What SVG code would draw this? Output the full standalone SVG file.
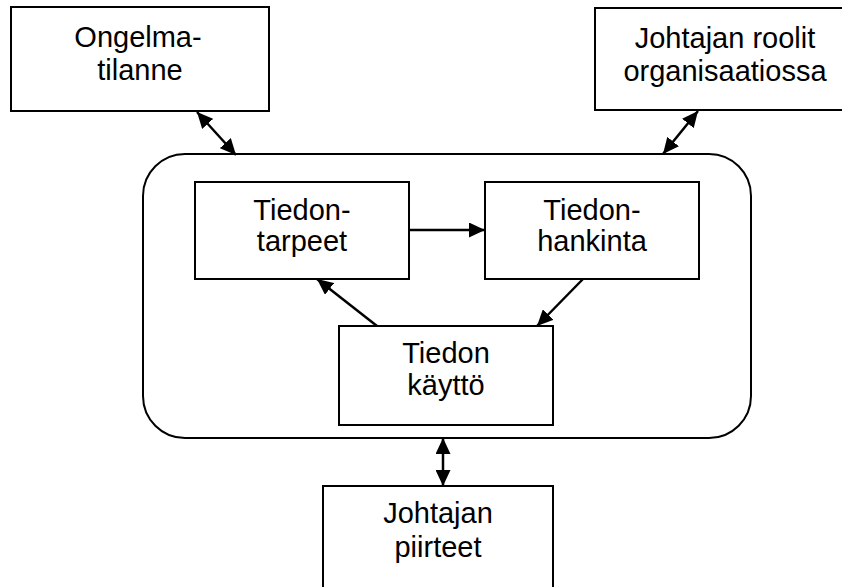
<svg xmlns="http://www.w3.org/2000/svg" width="842" height="587" viewBox="0 0 842 587">
<style>
.box{fill:#fff;stroke:#000;stroke-width:2}
.lbl{font-family:"Liberation Sans",Arial,sans-serif;font-size:29px;fill:#000;text-anchor:middle}
.con{stroke:#000;stroke-width:2.5;fill:none}
</style>
<defs>
<marker id="ah" viewBox="0 0 16 15" refX="16" refY="7.5" markerWidth="16" markerHeight="15" markerUnits="userSpaceOnUse" orient="auto-start-reverse">
<path d="M0,0 L16,7.5 L0,15 z" fill="#000"/>
</marker>
</defs>
<rect width="842" height="587" fill="#fff"/>
<g id="ongelmatilanne">
<rect class="box" x="11" y="7" width="258" height="104"/>
<text class="lbl" x="138" y="47">Ongelma-</text>
<text class="lbl" x="140" y="80">tilanne</text>
</g>
<g id="johtajan-roolit">
<rect class="box" x="595" y="8" width="260" height="102"/>
<text class="lbl" x="725" y="48">Johtajan roolit</text>
<text class="lbl" x="725" y="81">organisaatiossa</text>
</g>
<g id="tiedonhallinta">
<rect class="box" x="143" y="154" width="608" height="284" rx="42" ry="42"/>
</g>
<g id="tiedontarpeet">
<rect class="box" x="195" y="182" width="214" height="97"/>
<text class="lbl" x="302" y="220">Tiedon-</text>
<text class="lbl" x="302" y="251">tarpeet</text>
</g>
<g id="tiedonhankinta">
<rect class="box" x="485" y="182" width="214" height="97"/>
<text class="lbl" x="592" y="220">Tiedon-</text>
<text class="lbl" x="592" y="251">hankinta</text>
</g>
<g id="tiedon-kaytto">
<rect class="box" x="339" y="326" width="214" height="99"/>
<text class="lbl" x="446" y="363">Tiedon</text>
<text class="lbl" x="446" y="395">käyttö</text>
</g>
<g id="johtajan-piirteet">
<rect class="box" x="323" y="486" width="230" height="110"/>
<text class="lbl" x="438" y="523">Johtajan</text>
<text class="lbl" x="438" y="557">piirteet</text>
</g>
<g id="connectors">
<line class="con" x1="197" y1="112" x2="236" y2="155" marker-start="url(#ah)" marker-end="url(#ah)"/>
<line class="con" x1="698" y1="111" x2="663" y2="154" marker-start="url(#ah)" marker-end="url(#ah)"/>
<line class="con" x1="409" y1="230" x2="485" y2="230" marker-end="url(#ah)"/>
<line class="con" x1="583" y1="279" x2="537" y2="326" marker-end="url(#ah)"/>
<line class="con" x1="377" y1="326" x2="317" y2="279" marker-end="url(#ah)"/>
<line class="con" x1="443" y1="438" x2="443" y2="486" marker-start="url(#ah)" marker-end="url(#ah)"/>
</g>
</svg>
